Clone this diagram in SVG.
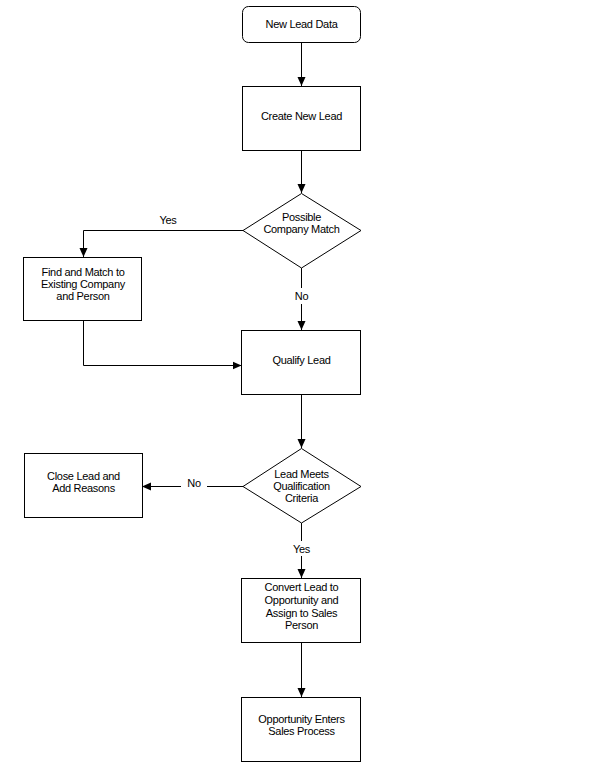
<svg xmlns="http://www.w3.org/2000/svg" width="596" height="765" viewBox="0 0 596 765">
<defs>
<marker id="ah" markerWidth="10" markerHeight="10" refX="9" refY="5" orient="auto" markerUnits="userSpaceOnUse">
<path d="M0,1 L9,5 L0,9 Z" fill="#000"/>
</marker>
<style>
.n{fill:#fff;stroke:#000;stroke-width:1}
.t{font-family:"Liberation Sans",Arial,sans-serif;font-size:11px;fill:#000;text-anchor:middle;letter-spacing:-0.3px}
.c{fill:none;stroke:#000;stroke-width:1;marker-end:url(#ah)}
.l{fill:none;stroke:#000;stroke-width:1}
</style>
</defs>
<rect width="596" height="765" fill="#fff"/>
<g id="connectors">
<path class="c" d="M301.5,42 V86"/>
<path class="c" d="M301.5,150 V193"/>
<path class="c" d="M243,230.5 H83.5 V257"/>
<path class="l" d="M301.5,268 V288"/>
<path class="c" d="M301.5,304 V330"/>
<path class="c" d="M83.5,320 V365.5 H241.5"/>
<path class="c" d="M301.5,394 V448"/>
<path class="l" d="M243,486.5 H207"/>
<path class="c" d="M181,486.5 H142"/>
<path class="l" d="M301.5,523 V541"/>
<path class="c" d="M301.5,556 V578"/>
<path class="c" d="M301.5,642 V697"/>
<text class="t" x="168" y="224">Yes</text>
<text class="t" x="301.5" y="300">No</text>
<text class="t" x="194" y="487">No</text>
<text class="t" x="301.5" y="553">Yes</text>
</g>
<g id="new-lead-data">
<rect class="n" x="242.5" y="6.5" width="118" height="36" rx="6"/>
<text class="t" x="301.5" y="28">New Lead Data</text>
</g>
<g id="create-new-lead">
<rect class="n" x="242.5" y="86.5" width="118" height="64"/>
<text class="t" x="301.5" y="120">Create New Lead</text>
</g>
<g id="possible-company-match">
<polygon class="n" points="301.5,193.5 361,230.5 301.5,268 243,230.5"/>
<text class="t" x="301.5" y="221">Possible</text>
<text class="t" x="301.5" y="233">Company Match</text>
</g>
<g id="find-and-match">
<rect class="n" x="23.5" y="257.5" width="118" height="63"/>
<text class="t" x="83" y="276">Find and Match to</text>
<text class="t" x="83" y="288">Existing Company</text>
<text class="t" x="83" y="300">and Person</text>
</g>
<g id="qualify-lead">
<rect class="n" x="241.5" y="330.5" width="119" height="64"/>
<text class="t" x="301.5" y="364">Qualify Lead</text>
</g>
<g id="lead-meets-criteria">
<polygon class="n" points="301.5,448.5 361,486.5 301.5,523 243,486.5"/>
<text class="t" x="301.5" y="478">Lead Meets</text>
<text class="t" x="301.5" y="490">Qualification</text>
<text class="t" x="301.5" y="502">Criteria</text>
</g>
<g id="close-lead">
<rect class="n" x="24.5" y="453.5" width="118" height="64"/>
<text class="t" x="83.5" y="480">Close Lead and</text>
<text class="t" x="83.5" y="492">Add Reasons</text>
</g>
<g id="convert-lead">
<rect class="n" x="241.5" y="578.5" width="119" height="64"/>
<text class="t" x="301.5" y="591">Convert Lead to</text>
<text class="t" x="301.5" y="604">Opportunity and</text>
<text class="t" x="301.5" y="617">Assign to Sales</text>
<text class="t" x="301.5" y="629">Person</text>
</g>
<g id="opportunity-enters">
<rect class="n" x="241.5" y="697.5" width="119" height="64"/>
<text class="t" x="301.5" y="723">Opportunity Enters</text>
<text class="t" x="301.5" y="735">Sales Process</text>
</g>
</svg>
